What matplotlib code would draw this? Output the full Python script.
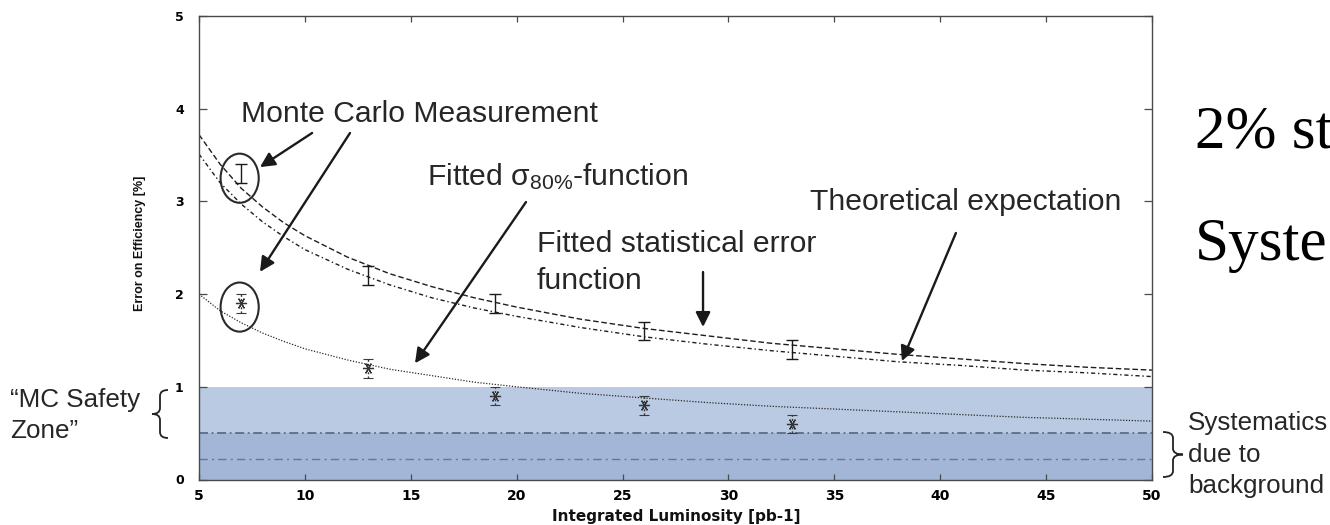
import matplotlib
matplotlib.use("Agg")
import matplotlib.pyplot as plt
from matplotlib.patches import Ellipse, PathPatch
from matplotlib.path import Path

# ---- data -------------------------------------------------------------
# Monte Carlo measurement of the efficiency error [%] vs integrated luminosity
lumi_points = [7, 13, 19, 26, 33]
mc_error = [3.3, 2.2, 1.9, 1.6, 1.4]
mc_error_unc = [0.1, 0.1, 0.1, 0.1, 0.1]
# sigma_80% estimate from the same samples
s80_error = [1.9, 1.2, 0.9, 0.8, 0.6]
s80_error_unc = [0.1, 0.1, 0.1, 0.1, 0.1]

# fitted / expected curves sampled along the luminosity axis
curve_lumi = [5, 6, 7, 8, 9, 10, 12, 14, 16, 18, 20, 23, 26, 29, 32, 35, 38, 41, 44, 47, 50]
fit_stat_curve = [3.72, 3.40, 3.14, 2.94, 2.77, 2.63, 2.40, 2.22, 2.08, 1.96, 1.86,
                  1.73, 1.63, 1.55, 1.47, 1.41, 1.35, 1.30, 1.25, 1.21, 1.18]
theory_curve = [3.51, 3.20, 2.97, 2.78, 2.62, 2.48, 2.27, 2.10, 1.96, 1.85, 1.76,
                1.64, 1.54, 1.46, 1.39, 1.33, 1.27, 1.23, 1.18, 1.15, 1.11]
fit_s80_curve = [2.00, 1.82, 1.69, 1.58, 1.49, 1.41, 1.29, 1.19, 1.12, 1.05, 1.00,
                 0.93, 0.88, 0.83, 0.79, 0.76, 0.73, 0.70, 0.67, 0.65, 0.63]

safety_zone = (0.0, 1.0)
background_syst = (0.22, 0.5)

x_ticks = [5, 10, 15, 20, 25, 30, 35, 40, 45, 50]
y_ticks = [0, 1, 2, 3, 4, 5]

# ---- figure -----------------------------------------------------------
W, H = 1330, 525
fig = plt.figure(figsize=(W / 100, H / 100), dpi=100)
fig.patch.set_facecolor("white")

plt.rcParams["mathtext.fontset"] = "custom"
plt.rcParams["mathtext.rm"] = "Liberation Sans"
plt.rcParams["mathtext.it"] = "Liberation Sans:italic"


def fx(px):
    return px / W


def fy(py):
    return 1 - py / H


ax = fig.add_axes([fx(199), fy(479.5), (1152 - 199) / W, (479.5 - 16) / H])
ax.set_xlim(5, 50)
ax.set_ylim(0, 5)

# safety zone and background systematics bands
ax.axhspan(*safety_zone, color="#b9cae2", lw=0, zorder=0)
ax.axhspan(0, background_syst[1], color="#a3b6d7", lw=0, zorder=0.1)
ax.axhline(background_syst[1], color="#5d6c88", lw=1.3, ls=(0, (5, 2, 1, 2)), zorder=0.5)
ax.axhline(background_syst[0], color="#66779a", lw=1.0, ls=(0, (6, 3, 1.5, 3)), zorder=0.5)

line_col = "#1e1e1e"
ax.plot(curve_lumi, fit_stat_curve, color=line_col, lw=1.0, ls=(0, (4, 2)), zorder=2)
ax.plot(curve_lumi, theory_curve, color=line_col, lw=1.0, ls=(0, (3, 2, 1, 2)), zorder=2)
ax.plot(curve_lumi, fit_s80_curve, color="#2a2a2a", lw=0.9, ls=(0, (1, 1.3)), zorder=2)

ax.errorbar(lumi_points, mc_error, yerr=mc_error_unc, fmt="none", ecolor="#1a1a1a",
            elinewidth=1.0, capsize=4, capthick=1.0, zorder=3)
eb = ax.errorbar(lumi_points, s80_error, yerr=s80_error_unc, fmt="none", ecolor="#3a3a3a",
                 elinewidth=1.0, capsize=3.5, capthick=0.8, zorder=3)
for col in eb[2]:
    col.set_linestyle((0, (1.5, 1.5)))
ax.plot(lumi_points, s80_error, ls="none", marker=(6, 2, 90), ms=8, mec="#333333",
        mew=0.9, zorder=3)

# axes frame and ticks
for side in ("left", "right", "top", "bottom"):
    ax.spines[side].set_color("#4a4a4a")
    ax.spines[side].set_linewidth(1.0)
    ax.spines[side].set_zorder(4)
ax.set_xticks(x_ticks)
ax.set_yticks(y_ticks)
ax.tick_params(axis="x", direction="in", length=4, width=0.9, color="#4a4a4a",
               top=True, bottom=True, pad=7)
ax.tick_params(axis="y", direction="in", length=6, width=0.9, color="#4a4a4a",
               left=True, right=True, pad=11)
for lab in ax.get_xticklabels():
    lab.set_fontfamily("DejaVu Sans")
    lab.set_fontweight("bold")
    lab.set_fontsize(10)
for lab in ax.get_yticklabels():
    lab.set_fontfamily("DejaVu Sans")
    lab.set_fontweight("bold")
    lab.set_fontsize(9)

fig.text(fx(676), fy(521.5), "Integrated Luminosity [pb-1]", ha="center", va="baseline",
         fontsize=11, fontweight="bold", family="DejaVu Sans", color="#111111")
fig.text(fx(140), fy(243), "Error on Efficiency [%]", rotation=90, ha="center", va="center",
         fontsize=9, fontweight="bold", family=["Liberation Sans Narrow", "Liberation Sans"],
         color="#111111")

# ---- annotations --------------------------------------------------------
txt = dict(family="Liberation Sans", fontsize=21.7, color="#262626")
arrow = dict(arrowstyle="-|>", mutation_scale=22, lw=1.7, color="#1a1a1a",
             shrinkA=0, shrinkB=0)

ax.text(6.98, 3.857, "Monte Carlo Measurement", ha="left", va="baseline", clip_on=False, **txt)
ax.annotate("", xy=(7.88, 3.37), xytext=(10.34, 3.738), arrowprops=arrow, annotation_clip=False)
ax.annotate("", xy=(7.88, 2.24), xytext=(12.13, 3.738), arrowprops=arrow, annotation_clip=False)
for cy in (3.25, 1.86):
    ax.add_patch(Ellipse((6.92, cy), 1.8, 0.53, fill=False, ec="#2a2a2a", lw=1.5, zorder=4))

ax.text(15.77, 3.177, r"Fitted σ$_{\mathregular{80\%}}$-function", ha="left", va="baseline", **txt)
ax.annotate("", xy=(15.2, 1.254), xytext=(20.44, 2.993), arrowprops=arrow)

ax.text(20.96, 2.457, "Fitted statistical error", ha="left", va="baseline", **txt)
ax.text(20.96, 2.055, "function", ha="left", va="baseline", **txt)
ax.annotate("", xy=(28.8, 1.645), xytext=(28.8, 2.238), arrowprops=arrow)

ax.text(33.85, 2.907, "Theoretical expectation", ha="left", va="baseline", **txt)
ax.annotate("", xy=(38.19, 1.278), xytext=(40.74, 2.659), arrowprops=arrow)


def brace(x_end, x_tip, y0, y1, r=6):
    """Curly brace in pixel space; opens towards x_end, points at x_tip."""
    xm = (x_end + x_tip) / 2
    ym = (y0 + y1) / 2
    pts = [(x_end, y0), (xm, y0), (xm, y0 + r), (xm, ym - r), (xm, ym), (x_tip, ym),
           (xm, ym), (xm, ym + r), (xm, y1 - r), (xm, y1), (x_end, y1)]
    codes = [Path.MOVETO, Path.CURVE3, Path.CURVE3, Path.LINETO, Path.CURVE3, Path.CURVE3,
             Path.CURVE3, Path.CURVE3, Path.LINETO, Path.CURVE3, Path.CURVE3]
    verts = [(fx(x), fy(y)) for x, y in pts]
    fig.add_artist(PathPatch(Path(verts, codes), transform=fig.transFigure, fill=False,
                             ec="#222222", lw=1.3))


side = dict(family="Liberation Sans", fontsize=18.7, color="#262626")
fig.text(fx(10), fy(407), "\u201cMC Safety", ha="left", va="baseline", **side)
fig.text(fx(10), fy(438), "Zone\u201d", ha="left", va="baseline", **side)
brace(168, 152, 390, 438)

fig.text(fx(1188), fy(430), "Systematics", ha="left", va="baseline", **side)
fig.text(fx(1188), fy(461.5), "due to", ha="left", va="baseline", **side)
fig.text(fx(1188), fy(492.5), "background", ha="left", va="baseline", **side)
brace(1163, 1183, 432, 477)

serif = dict(family="Liberation Serif", fontsize=44, color="#000000")
fig.text(fx(1195), fy(148), "2% st", ha="left", va="baseline", **serif)
fig.text(fx(1195), fy(260), "Syste", ha="left", va="baseline", **serif)

fig.savefig("out.png", dpi=100, facecolor="white")
